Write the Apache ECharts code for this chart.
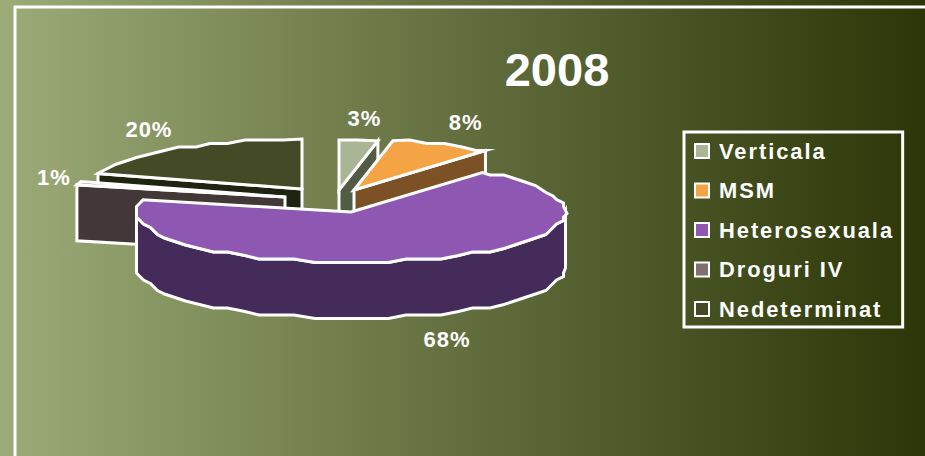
<!DOCTYPE html>
<html>
<head>
<meta charset="utf-8">
<title>2008</title>
<script src="https://cdn.jsdelivr.net/npm/echarts@6/dist/echarts.min.js"></script>
<style>
html, body { margin: 0; padding: 0; background: #2c3608; }
#chart { width: 925px; height: 456px; }
/* canvas api has no tracking, so the svg renderer + css does it */
#chart text[style*="21.9px"] { letter-spacing: 1.95px; }
#chart text[style*="22px"] { letter-spacing: 1px; }
</style>
</head>
<body>
<div id="chart"></div>
<script>
const categories = ['Verticala', 'MSM', 'Heterosexuala', 'Droguri IV', 'Nedeterminat'];
const values = [2.9, 7.6, 68.4, 1.1, 20];

const topColors = ['#a9b595', '#f4a444', '#8e57b1', '#7e6f71', '#454a26'];
const wallColors = ['#525c45', '#7b5125', '#452b5a', '#433838', '#1f2410'];
// back to front
const drawOrder = [4, 3, 0, 1, 2];
// where each exploded slice has its tip
const tips = [[339, 190], [354, 190], [351, 212], [285, 197], [302, 189]];
// label nudge from the rim at the slice's middle angle
const labelNudge = [[6, -22], [24, -22], [26, 24], [-25, -6], [-27, -19]];

const RX = 214.5;
const RY = 50;
const DEPTH = 56;
const total = values.reduce((a, b) => a + b, 0);

function snap(v) {
  return Math.round(v / 3.5) * 3.5;
}

function rim(tip, deg, drop) {
  const a = deg * Math.PI / 180;
  return [tip[0] + RX * Math.sin(a), tip[1] - RY * Math.cos(a) + (drop || 0)];
}

// same 5 degree steps for every face, so top and wall share their edge
function arc(tip, from, to, drop) {
  const pts = [rim(tip, from, drop)];
  for (let d = Math.ceil((from + 1) / 5) * 5; d < to - 1; d += 5) {
    const p = rim(tip, d);
    pts.push([snap(p[0]), snap(p[1]) + (drop || 0)]);
  }
  pts.push(rim(tip, to, drop));
  return pts;
}

function face(points, fill) {
  return {
    type: 'polygon',
    shape: { points: points },
    style: { fill: fill, stroke: '#fff', lineWidth: 3, lineJoin: 'miter', miterLimit: 8 }
  };
}

function sliceAngles(idx) {
  let before = 0;
  for (let i = 0; i < idx; i++) before += values[i];
  return [before / total * 360, (before + values[idx]) / total * 360];
}

function renderSlice(idx) {
  return function (params, api) {
    const angles = sliceAngles(idx);
    const from = angles[0];
    const to = angles[1];
    const tip = tips[idx];
    const kids = [];
    const tipLow = [tip[0], tip[1] + DEPTH];

    // cut faces, only those turned to the viewer
    if (Math.sin(from * Math.PI / 180) < 0) {
      kids.push(face([tip, rim(tip, from), rim(tip, from, DEPTH), tipLow], wallColors[idx]));
    }
    if (Math.sin(to * Math.PI / 180) > 0 && to < 360) {
      kids.push(face([tip, rim(tip, to), rim(tip, to, DEPTH), tipLow], wallColors[idx]));
    }
    // rim wall, lower half of the ellipse
    const wFrom = Math.max(from, 90);
    const wTo = Math.min(to, 270);
    if (wFrom < wTo) {
      const upper = arc(tip, wFrom, wTo, 0);
      const lower = arc(tip, wFrom, wTo, DEPTH).reverse();
      kids.push(face(upper.concat(lower), wallColors[idx]));
    }
    // top
    kids.push(face([tip].concat(arc(tip, from, to, 0)), topColors[idx]));

    const midDeg = (from + to) / 2;
    const mid = rim(tip, midDeg, midDeg > 90 && midDeg < 270 ? DEPTH : 0);
    kids.push({
      type: 'text',
      style: {
        x: mid[0] + labelNudge[idx][0],
        y: mid[1] + labelNudge[idx][1],
        text: Math.round(api.value(0)) + '%',
        fill: '#fff',
        font: 'bold 22px "Liberation Sans", Arial, sans-serif',
        align: 'center',
        verticalAlign: 'middle'
      }
    });
    return { type: 'group', children: kids };
  };
}

const chart = echarts.init(document.getElementById('chart'), null, { renderer: 'svg' });

chart.setOption({
  animation: false,
  backgroundColor: new echarts.graphic.LinearGradient(0, 0, 1, 0, [
    { offset: 0, color: '#9cab77' },
    { offset: 0.5, color: '#626e3d' },
    { offset: 1, color: '#2c3608' }
  ]),
  title: {
    text: '2008',
    left: 552,
    top: 41,
    textAlign: 'center',
    textStyle: { color: '#fff', fontSize: 47, fontWeight: 'bold', fontFamily: '"Liberation Sans", Arial, sans-serif' }
  },
  legend: {
    data: categories,
    orient: 'vertical',
    left: 684,
    top: 132,
    icon: 'rect',
    itemWidth: 14,
    itemHeight: 14,
    itemGap: 17.5,
    padding: [8, 34, 7, 10],
    borderColor: '#fff',
    borderWidth: 3,
    selectedMode: false,
    itemStyle: { borderColor: '#fff', borderWidth: 2 },
    textStyle: {
      color: '#fff',
      fontSize: 21.9,
      fontWeight: 'bold',
      fontFamily: '"Liberation Sans", Arial, sans-serif',
      padding: [0, 0, 0, 5]
    }
  },
  graphic: [{
    // frame runs off the right and bottom of the slide
    type: 'rect',
    silent: true,
    shape: { x: 15, y: 7, width: 1000, height: 600 },
    style: { fill: 'none', stroke: '#fff', lineWidth: 3 }
  }],
  series: drawOrder.map(function (idx, order) {
    return {
      type: 'custom',
      name: categories[idx],
      coordinateSystem: 'none',
      z: 2 + order,
      silent: true,
      itemStyle: { color: topColors[idx] },
      renderItem: renderSlice(idx),
      data: [values[idx]]
    };
  })
});
</script>
</body>
</html>
